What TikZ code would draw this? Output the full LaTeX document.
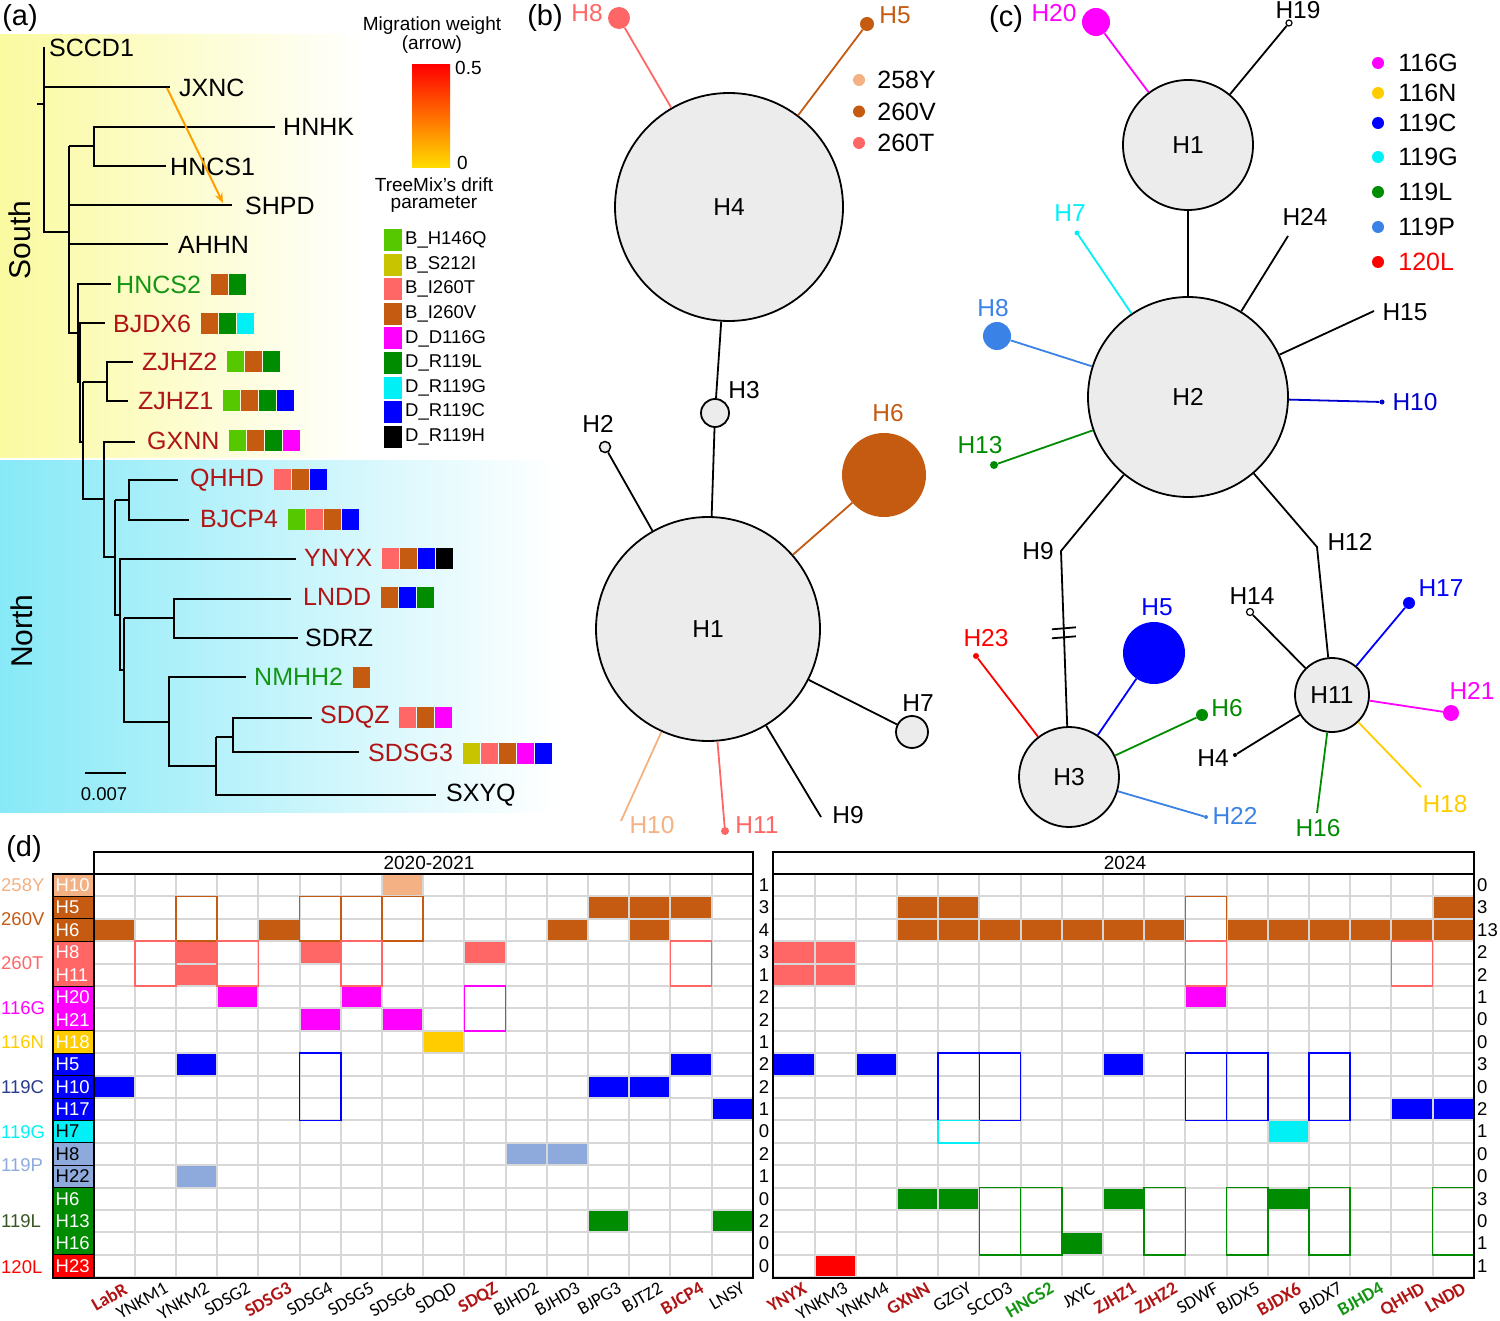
\documentclass[tikz,border=0pt]{standalone}
\usepackage{fontspec}
\setmainfont{Liberation Sans}
\newfontfamily\colfont{Carlito}
\usetikzlibrary{calc,positioning,arrows.meta}

\definecolor{yelbg}{RGB}{250,250,160}
\definecolor{cyanbg}{RGB}{135,233,247}
\definecolor{hapgrey}{RGB}{236,236,236}
\definecolor{gridgrey}{RGB}{215,215,215}
\definecolor{peachC}{RGB}{244,177,131}
\definecolor{brownC}{RGB}{197,90,17}
\definecolor{salmonC}{RGB}{255,102,102}
\definecolor{magC}{RGB}{255,0,255}
\definecolor{goldC}{RGB}{255,204,0}
\definecolor{blueC}{RGB}{0,0,255}
\definecolor{cyanC}{RGB}{0,240,245}
\definecolor{skyC}{RGB}{142,169,219}
\definecolor{azureC}{RGB}{59,130,230}
\definecolor{greenC}{RGB}{0,140,0}
\definecolor{redC}{RGB}{255,0,0}
\definecolor{limeC}{RGB}{85,200,0}
\definecolor{oliveC}{RGB}{200,196,0}
\definecolor{darkredT}{RGB}{176,20,20}
\definecolor{greenT}{RGB}{20,150,20}
\definecolor{navyT}{RGB}{40,60,140}
\definecolor{oliveT}{RGB}{56,86,35}
\definecolor{arrowC}{RGB}{255,160,0}
\definecolor{barY}{RGB}{255,222,0}
\definecolor{barO}{RGB}{255,120,0}

\tikzset{
  branch/.style={line width=2},
  tiplab/.style={anchor=west, inner sep=0, font=\fontsize{25}{30}\selectfont},
  redlab/.style={tiplab, text=darkredT},
  grnlab/.style={tiplab, text=greenT},
  leglab/.style={anchor=west, inner sep=0, font=\fontsize{18.5}{22}\selectfont},
  smalltxt/.style={inner sep=0, font=\fontsize{19}{23}\selectfont},
  panel/.style={inner sep=0, font=\fontsize{29}{34}\selectfont},
  region/.style={rotate=90, anchor=base, inner sep=0, font=\fontsize{30}{36}\selectfont},
  hapnode/.style={circle, draw=black, line width=1.8, fill=hapgrey, inner sep=0, font=\fontsize{24.5}{29}\selectfont},
  dotnode/.style={circle, inner sep=0},
  hlab/.style={inner sep=0, font=\fontsize{24.5}{29}\selectfont},
  link/.style={line width=1.8},
  gridline/.style={draw=gridgrey, line width=2},
  cnt/.style={inner sep=0, font=\fontsize{18.5}{22}\selectfont},
  colK/.style={rotate=30, anchor=north east, inner sep=0, font=\colfont\fontsize{18.5}{22}\selectfont},
  colR/.style={colK, text=darkredT, font=\colfont\fontsize{18.5}{22}\selectfont\bfseries},
  colG/.style={colK, text=greenT, font=\colfont\fontsize{18.5}{22}\selectfont\bfseries}
}

% squares after a tip label
\newcommand\mutrow[2]{%
  \foreach \mc [count=\mi from 0] in {#2}
    \fill[\mc] ($(#1.east)+({9.5+18*\mi},-10.5)$) rectangle ++(17,21);}
% grid cells of panel (d)
\newcommand\cellfill[4]{\fill[#4] ({#1+(#2-1)*41.2+1},{874+(#3-1)*22.4+1}) rectangle ++(39.2,20.4);}
\newcommand\cellbox[5]{\draw[#5,line width=1.6] ({#1+(#2-1)*41.2},{874+(#3-1)*22.4}) rectangle ++(41.2,{#4*22.4});}

\begin{document}
\begin{tikzpicture}[x=1pt, y=-1pt]
\useasboundingbox (0,0) rectangle (1500,1321);

% ---------- (a) tree ----------
\shade[left color=yelbg, right color=white] (0,35) rectangle (365,458);
\shade[left color=cyanbg, right color=white] (0,461) rectangle (555,812);
\node[panel] (pa) at (20,18) {(a)};
\node[region] (south) at (30,240) {South};
\node[region] (north) at (32,631) {North};

\draw[branch] (37,104) -- (44,104);
\draw[branch] (44,47) -- (44,232) -- (69,232);
\draw[branch] (44,87) -- (170,87);
\draw[branch] (69,146) -- (69,333) -- (78,333);
\draw[branch] (69,146) -- (94,146);
\draw[branch] (275,127) -- (94,127) -- (94,166) -- (166,166);
\draw[branch] (69,205) -- (232,205);
\draw[branch] (69,244) -- (168,244);
\draw[branch] (111,284) -- (78,284) -- (78,382) -- (80,382);
\draw[branch] (105,323) -- (80,323) -- (80,442) -- (83,442);
\draw[branch] (83,382) -- (83,499) -- (104,499);
\draw[branch] (83,382) -- (107,382);
\draw[branch] (133,362) -- (107,362) -- (107,401) -- (128,401);
\draw[branch] (135,442) -- (104,442) -- (104,557) -- (115,557);
\draw[branch] (115,500) -- (115,615) -- (120,615);
\draw[branch] (115,500) -- (129,500);
\draw[branch] (178,480) -- (129,480) -- (129,520) -- (189,520);
\draw[branch] (296,559) -- (120,559) -- (120,670) -- (124,670);
\draw[branch] (124,618) -- (124,722) -- (169,722);
\draw[branch] (124,618) -- (174,618);
\draw[branch] (291,599) -- (174,599) -- (174,638) -- (298,638);
\draw[branch] (246,677) -- (169,677) -- (169,766) -- (216,766);
\draw[branch] (216,737) -- (216,795) -- (436,795);
\draw[branch] (216,737) -- (233,737);
\draw[branch] (312,718) -- (233,718) -- (233,752) -- (359,752);

\node[tiplab] (tSCCD1) at (49,48) {SCCD1};
\node[tiplab] (tJXNC) at (179,88) {JXNC};
\node[tiplab] (tHNHK) at (283,127) {HNHK};
\node[tiplab] (tHNCS1) at (170,167) {HNCS1};
\node[tiplab] (tSHPD) at (245,206) {SHPD};
\node[tiplab] (tAHHN) at (178,245) {AHHN};
\node[grnlab] (tHNCS2) at (116,285) {HNCS2};
\node[redlab] (tBJDX6) at (113,324) {BJDX6};
\node[redlab] (tZJHZ2) at (142,362) {ZJHZ2};
\node[redlab] (tZJHZ1) at (138,401) {ZJHZ1};
\node[redlab] (tGXNN) at (147,441) {GXNN};
\node[redlab] (tQHHD) at (190,480) {QHHD};
\node[redlab] (tBJCP4) at (200,519) {BJCP4};
\node[redlab] (tYNYX) at (304,558) {YNYX};
\node[redlab] (tLNDD) at (303,597) {LNDD};
\node[tiplab] (tSDRZ) at (305,638) {SDRZ};
\node[grnlab] (tNMHH2) at (254,677) {NMHH2};
\node[redlab] (tSDQZ) at (320,717) {SDQZ};
\node[redlab] (tSDSG3) at (368,753) {SDSG3};
\node[tiplab] (tSXYQ) at (446,795) {SXYQ};

\mutrow{tHNCS2}{brownC,greenC}
\mutrow{tBJDX6}{brownC,greenC,cyanC}
\mutrow{tZJHZ2}{limeC,brownC,greenC}
\mutrow{tZJHZ1}{limeC,brownC,greenC,blueC}
\mutrow{tGXNN}{limeC,brownC,greenC,magC}
\mutrow{tQHHD}{salmonC,brownC,blueC}
\mutrow{tBJCP4}{limeC,salmonC,brownC,blueC}
\mutrow{tYNYX}{salmonC,brownC,blueC,black}
\mutrow{tLNDD}{brownC,blueC,greenC}
\mutrow{tNMHH2}{brownC}
\mutrow{tSDQZ}{salmonC,brownC,magC}
\mutrow{tSDSG3}{oliveC,salmonC,brownC,magC,blueC}

% migration arrow
\coordinate (migfrom) at (167,88);
\coordinate (migto) at (223,203);
\draw[arrowC, line width=2, -{Stealth[length=10pt, width=8pt]}] (migfrom) -- (migto);

% scale bar
\draw[branch] (85,773) -- (126,773);
\node[cnt] (scl) at (104,794) {0.007};

% legends of (a)
\node[smalltxt] (mw1) at (432,26) {Migration weight};
\node[smalltxt] (mw2) at (432,45) {(arrow)};
\shade[top color=redC, middle color=barO, bottom color=barY] (412,65) rectangle (450,168);
\node[smalltxt, anchor=west] (bar1) at (455,68) {0.5};
\node[smalltxt, anchor=west] (bar0) at (457,163) {0};
\node[smalltxt] (tm1) at (434,185) {TreeMix’s drift};
\node[smalltxt] (tm2) at (434,204) {parameter};
\foreach \kc/\tx [count=\i] in {limeC/B\_H146Q, oliveC/B\_S212I, salmonC/B\_I260T, brownC/B\_I260V, magC/D\_D116G, greenC/D\_R119L, cyanC/D\_R119G, blueC/D\_R119C, black/D\_R119H}{
  \fill[\kc] (384,{229+24.6*(\i-1)}) rectangle ++(18,22);
  \node[leglab] (lg\i) at (405,{240+24.6*(\i-1)}) {\tx};
}

% ---------- (b) network ----------
\node[panel] (pb) at (545,18) {(b)};
\node[hapnode, minimum size=228] (b4) at (729,207) {H4};
\node[hapnode, minimum size=224] (b1) at (708,629) {H1};
\node[hapnode, minimum size=28] (b3) at (715,413) {};
\node[hapnode, minimum size=11, line width=1.5] (b2) at (605,447) {};
\node[hapnode, minimum size=32] (b7) at (912,732) {};
\node[dotnode, fill=brownC, minimum size=84] (b6) at (884,475) {};
\node[dotnode, fill=salmonC, minimum size=22] (b8) at (619,18) {};
\node[dotnode, fill=brownC, minimum size=14] (b5) at (867,24) {};
\node[dotnode, fill=salmonC, minimum size=8] (b11) at (725,831) {};
\coordinate (b10) at (621,821);
\coordinate (b9) at (821,817);

\node[hlab] (lb3) at (744,390) {H3};
\node[hlab] (lb2) at (598,424) {H2};
\node[hlab, text=brownC] (lb6) at (888,413) {H6};
\node[hlab] (lb7) at (918,703) {H7};
\node[hlab, text=salmonC] (lb8) at (587,13) {H8};
\node[hlab, text=brownC] (lb5) at (895,15) {H5};
\node[hlab, text=peachC] (lb10) at (652,825) {H10};
\node[hlab, text=salmonC] (lb11) at (757,825) {H11};
\node[hlab] (lb9) at (848,815) {H9};

\draw[link, salmonC] (b8) -- (b4);
\draw[link, brownC] (b5) -- (b4);
\draw[link] (b4) -- (b3);
\draw[link] (b3) -- (b1);
\draw[link] (b2) -- (b1);
\draw[link, brownC] (b6) -- (b1);
\draw[link] (b7) -- (b1);
\draw[link, peachC] (b1) -- (b10);
\draw[link, salmonC] (b1) -- (b11);
\draw[link] (b1) -- (b9);

\foreach \kc/\tx/\yy [count=\i] in {peachC/258Y/80, brownC/260V/111.5, salmonC/260T/143}{
  \node[dotnode, fill=\kc, minimum size=12] (bl\i) at (859,\yy) {};
  \node[hlab, anchor=west, right=12pt of bl\i, font=\fontsize{25}{30}\selectfont] (blt\i) {\tx};
}

% ---------- (c) network ----------
\node[panel] (pc) at (1006,19) {(c)};
\node[hapnode, minimum size=130] (c1) at (1188,145) {H1};
\node[hapnode, minimum size=200] (c2) at (1188,397) {H2};
\node[hapnode, minimum size=100] (c3) at (1069,777) {H3};
\node[hapnode, minimum size=74] (c11) at (1332,695) {H11};
\node[dotnode, fill=magC, minimum size=28] (c20) at (1096,22) {};
\node[dotnode, draw=black, line width=1.2, fill=white, minimum size=6] (c19) at (1289,23) {};
\node[dotnode, fill=cyanC, minimum size=5] (c7) at (1077,233) {};
\coordinate (c24) at (1288,236);
\node[dotnode, fill=azureC, minimum size=28] (c8) at (997,336) {};
\coordinate (c15) at (1374,311);
\node[dotnode, fill=blueC!80!black, minimum size=5] (c10) at (1382,402) {};
\node[dotnode, fill=greenC, minimum size=8] (c13) at (994,465) {};
\coordinate (c9) at (1061,551);
\coordinate (c12) at (1317,547);
\node[dotnode, fill=redC, minimum size=6] (c23) at (976,656) {};
\node[dotnode, fill=blueC, minimum size=62] (c5) at (1154,653) {};
\node[dotnode, fill=greenC, minimum size=12] (c6) at (1202,715) {};
\node[dotnode, fill=azureC, minimum size=4] (c22) at (1206,817) {};
\node[dotnode, draw=black, line width=1.2, fill=white, minimum size=7] (c14) at (1250,612) {};
\node[dotnode, fill=blueC, minimum size=12] (c17) at (1409,603) {};
\node[dotnode, fill=magC, minimum size=16] (c21) at (1451,713) {};
\coordinate (c18) at (1421,787);
\coordinate (c16) at (1317,813);
\node[dotnode, fill=black, minimum size=4] (c4) at (1235,755) {};

\node[hlab, text=magC] (lc20) at (1054,13) {H20};
\node[hlab] (lc19) at (1298,10) {H19};
\node[hlab, text=cyanC] (lc7) at (1070,213) {H7};
\node[hlab] (lc24) at (1305,217) {H24};
\node[hlab, text=azureC] (lc8) at (993,308) {H8};
\node[hlab] (lc15) at (1405,312) {H15};
\node[hlab, text=blueC!80!black] (lc10) at (1415,402) {H10};
\node[hlab, text=greenC] (lc13) at (980,445) {H13};
\node[hlab] (lc9) at (1038,551) {H9};
\node[hlab] (lc12) at (1350,542) {H12};
\node[hlab, text=redC] (lc23) at (986,638) {H23};
\node[hlab, text=blueC] (lc5) at (1157,607) {H5};
\node[hlab, text=greenC] (lc6) at (1227,708) {H6};
\node[hlab, text=azureC] (lc22) at (1235,816) {H22};
\node[hlab] (lc14) at (1252,596) {H14};
\node[hlab, text=blueC] (lc17) at (1441,588) {H17};
\node[hlab, text=magC] (lc21) at (1472,691) {H21};
\node[hlab, text=goldC] (lc18) at (1445,804) {H18};
\node[hlab, text=greenC] (lc16) at (1318,828) {H16};
\node[hlab] (lc4) at (1213,758) {H4};

\draw[link, magC] (c20) -- (c1);
\draw[link] (c19) -- (c1);
\draw[link] (c1) -- (c2);
\draw[link, cyanC] (c7) -- (c2);
\draw[link] (c24) -- (c2);
\draw[link, azureC] (c8) -- (c2);
\draw[link] (c15) -- (c2);
\draw[link, blueC!80!black] (c10) -- (c2);
\draw[link, greenC] (c13) -- (c2);
\draw[link] (c2) -- (c9) -- (c3);
\draw[link] (c2) -- (c12) -- (c11);
\draw[link, redC] (c23) -- (c3);
\draw[link, blueC] (c5) -- (c3);
\draw[link, greenC] (c6) -- (c3);
\draw[link, azureC] (c22) -- (c3);
\draw[link] (c14) -- (c11);
\draw[link, blueC] (c17) -- (c11);
\draw[link, magC] (c21) -- (c11);
\draw[link, goldC] (c18) -- (c11);
\draw[link, greenC] (c16) -- (c11);
\draw[link] (c4) -- (c11);
% break marks
\path (c9) -- (c3) coordinate[pos=0.47] (cbrk);
\draw[link] ($(cbrk)+(-12,-4)$) -- ++(24,-2);
\draw[link] ($(cbrk)+(-12,5)$) -- ++(24,-2);

\foreach \kc/\tx/\tc/\yy [count=\i] in {magC/116G/black/63, goldC/116N/black/93, blueC/119C/black/123, cyanC/119G/black/157, greenC/119L/black/192, azureC/119P/black/227, redC/120L/redC/262}{
  \node[dotnode, fill=\kc, minimum size=12] (cl\i) at (1378,\yy) {};
  \node[hlab, anchor=west, right=14pt of cl\i, text=\tc, font=\fontsize{25}{30}\selectfont] (clt\i) {\tx};
}

% ---------- (d) table ----------
\node[panel] (pd) at (24,849) {(d)};
\foreach \bx/\nc in {93.5/16, 773.3/17}{
  \foreach \i in {0,...,\nc} {\draw[gridline] ({\bx+\i*41.2},874) -- ++(0,404.2);}
  \foreach \j in {0,...,18} {\draw[gridline] (\bx,{874+\j*22.4}) -- ++({\nc*41.2},0);}
}
% filled cells, 2020-2021
\foreach \cl/\rw/\kc in {8/1/peachC, 13/2/brownC, 14/2/brownC, 15/2/brownC,
  1/3/brownC, 5/3/brownC, 12/3/brownC, 14/3/brownC,
  3/4/salmonC, 6/4/salmonC, 10/4/salmonC, 3/5/salmonC,
  4/6/magC, 7/6/magC, 6/7/magC, 8/7/magC, 9/8/goldC,
  3/9/blueC, 15/9/blueC, 1/10/blueC, 13/10/blueC, 14/10/blueC, 16/11/blueC,
  11/13/skyC, 12/13/skyC, 3/14/skyC, 13/16/greenC, 16/16/greenC}
  {\cellfill{93.5}{\cl}{\rw}{\kc}}
% filled cells, 2024
\foreach \cl/\rw/\kc in {4/2/brownC, 5/2/brownC, 17/2/brownC,
  4/3/brownC, 5/3/brownC, 6/3/brownC, 7/3/brownC, 8/3/brownC, 9/3/brownC, 10/3/brownC,
  12/3/brownC, 13/3/brownC, 14/3/brownC, 15/3/brownC, 16/3/brownC, 17/3/brownC,
  1/4/salmonC, 2/4/salmonC, 1/5/salmonC, 2/5/salmonC, 11/6/magC,
  1/9/blueC, 3/9/blueC, 9/9/blueC, 16/11/blueC, 17/11/blueC, 13/12/cyanC,
  4/15/greenC, 5/15/greenC, 9/15/greenC, 13/15/greenC, 8/17/greenC, 2/18/redC}
  {\cellfill{773.3}{\cl}{\rw}{\kc}}
% open boxes
\foreach \cl/\rw/\nr/\kc in {3/2/2/brownC, 6/2/2/brownC, 7/2/2/brownC, 8/2/2/brownC,
  2/4/2/salmonC, 4/4/2/salmonC, 7/4/2/salmonC, 15/4/2/salmonC, 10/6/2/magC, 6/9/3/blueC}
  {\cellbox{93.5}{\cl}{\rw}{\nr}{\kc}}
\foreach \cl/\rw/\nr/\kc in {11/2/2/brownC, 11/4/2/salmonC, 16/4/2/salmonC,
  5/9/3/blueC, 6/9/3/blueC, 11/9/3/blueC, 12/9/3/blueC, 14/9/3/blueC, 5/12/1/cyanC,
  6/15/3/greenC, 7/15/3/greenC, 10/15/3/greenC, 12/15/3/greenC, 14/15/3/greenC, 17/15/3/greenC}
  {\cellbox{773.3}{\cl}{\rw}{\nr}{\kc}}
% block frames
\foreach \bx/\bxe in {93.5/752.7, 773.3/1473.7}{
  \draw[line width=2] (\bx,852) rectangle (\bxe,1278);
  \draw[line width=2] (\bx,874) -- (\bxe,874);
}
\node[smalltxt] (yr1) at (429,863) {2020-2021};
\node[smalltxt] (yr2) at (1125,863) {2024};

% haplotype key column
\foreach \rw/\kc/\tx/\tc in {1/peachC/H10/white, 2/brownC/H5/white, 3/brownC/H6/white,
  4/salmonC/H8/white, 5/salmonC/H11/white, 6/magC/H20/white, 7/magC/H21/white,
  8/goldC/H18/white, 9/blueC/H5/white, 10/blueC/H10/white, 11/blueC/H17/white,
  12/cyanC/H7/black, 13/skyC/H8/black, 14/skyC/H22/black, 15/greenC/H6/white,
  16/greenC/H13/white, 17/greenC/H16/white, 18/redC/H23/white}{
  \fill[\kc] (52.5,{874+(\rw-1)*22.4}) rectangle ++(41,22.4);
  \node[cnt, anchor=west, text=\tc] (hk\rw) at (55.5,{874+(\rw-0.5)*22.4}) {\tx};
}
\foreach \rw in {1,2,3,5,7,8,9,10,11,12,13,14,17}
  {\draw[line width=1] (52.5,{874+\rw*22.4}) -- ++(41,0);}
\draw[line width=2] (52.5,874) rectangle (93.5,1278);

\foreach \tx/\kc/\yy in {258Y/peachC/885.2, 260V/brownC/918.8, 260T/salmonC/963.6,
  116G/magC/1008.4, 116N/goldC/1042, 119C/navyT/1087.2, 119G/cyanC/1132,
  119P/skyC/1165.6, 119L/oliveT/1221.2, 120L/redC/1266.8}
  {\node[cnt, anchor=west, text=\kc] (grp\tx) at (1,\yy) {\tx};}

% counts
\foreach \nm [count=\rw] in {1,3,4,3,1,2,2,1,2,2,1,0,2,1,0,2,0,0}
  {\node[cnt] (nl\rw) at (764,{874+(\rw-0.5)*22.4}) {\nm};}
\foreach \nm [count=\rw] in {0,3,13,2,2,1,0,0,3,0,2,1,0,0,3,0,1,1}
  {\node[cnt, anchor=west] (nr\rw) at (1477,{874+(\rw-0.5)*22.4}) {\nm};}

% column names
\foreach \nm/\st [count=\i] in {LabR/colR, YNKM1/colK, YNKM2/colK, SDSG2/colK, SDSG3/colR,
  SDSG4/colK, SDSG5/colK, SDSG6/colK, SDQD/colK, SDQZ/colR, BJHD2/colK, BJHD3/colK,
  BJPG3/colK, BJTZ2/colK, BJCP4/colR, LNSY/colK}
  {\node[\st] (clL\i) at ({93.5+(\i-0.5)*41.2+8},1281.5) {\nm};}
\foreach \nm/\st [count=\i] in {YNYX/colR, YNKM3/colK, YNKM4/colK, GXNN/colR, GZGY/colK,
  SCCD3/colK, HNCS2/colG, JXYC/colK, ZJHZ1/colR, ZJHZ2/colR, SDWF/colK, BJDX5/colK,
  BJDX6/colR, BJDX7/colK, BJHD4/colG, QHHD/colR, LNDD/colR}
  {\node[\st] (clR\i) at ({773.3+(\i-0.5)*41.2+8},1281.5) {\nm};}
\end{tikzpicture}
\end{document}
